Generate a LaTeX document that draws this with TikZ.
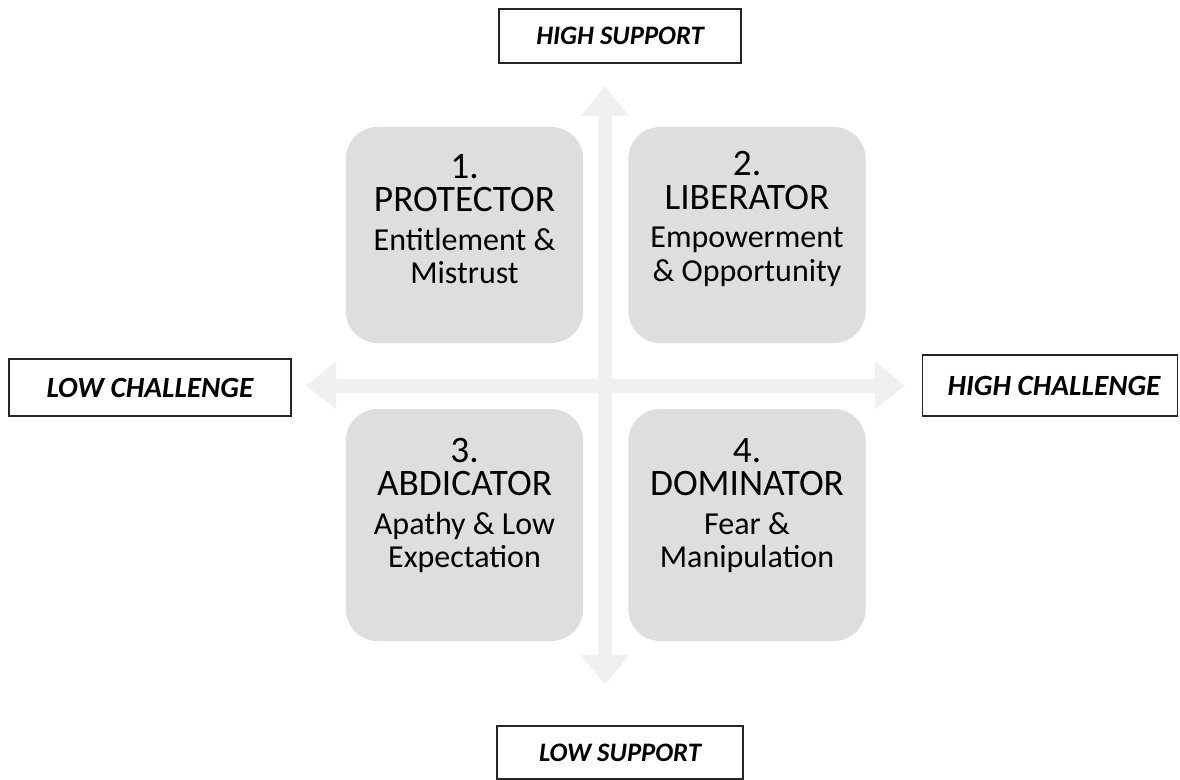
\documentclass[tikz,border=0pt]{standalone}
\usepackage{fontspec}
\setmainfont{Carlito}
\usepackage{tikz}
\usetikzlibrary{arrows.meta}
\definecolor{quadgrey}{HTML}{DEDEDE}
\definecolor{axisgrey}{HTML}{F0F0F0}
\newcommand{\quadtitle}{\fontsize{28}{25}\selectfont}

\begin{document}
\begin{tikzpicture}[x=0.75pt,y=-0.75pt,
    quad/.style={fill=quadgrey,rounded corners=24pt,minimum width=178pt,inner sep=0pt},
    quadtext/.style={align=center,inner sep=0pt,font=\fontsize{24}{25}\selectfont},
    axislabel/.style={draw=black!85,line width=1pt,fill=white,minimum height=40.5pt,inner sep=0pt,font=\fontsize{20}{24}\selectfont\bfseries\itshape},
    axis/.style={axisgrey,line width=10.5pt,arrows={Triangle[length=22.5pt,width=34.5pt]-Triangle[length=22.5pt,width=34.5pt]}}]
    \useasboundingbox (0,0) rectangle (1180,780);
    % the two axes
    \coordinate (lo) at (306,385.5);
    \coordinate (hi) at (905,385.5);
    \coordinate (up) at (605,86);
    \coordinate (dn) at (605,685);
    \draw[axis] (lo) -- (hi);
    \draw[axis] (dn) -- (up);
    % quadrants
    \node[quad,minimum height=162pt] (prot) at (464.5,235) {};
    \node[quad,minimum height=162pt] (lib) at (747,235) {};
    \node[quad,minimum height=174pt] (abd) at (464.5,525) {};
    \node[quad,minimum height=174pt] (dom) at (747,525) {};
    \node[quadtext] (prottext) at (464.5,219) {\quadtitle 1.\\\quadtitle PROTECTOR\\[4pt]Entitlement \&\\Mistrust};
    \node[quadtext] (libtext) at (747,219) {\quadtitle 2.\\\quadtitle LIBERATOR\\[4pt]Empowerment\\\& Opportunity};
    \node[quadtext] (abdtext) at (464.5,505.5) {\quadtitle 3.\\\quadtitle ABDICATOR\\[4pt]Apathy \& Low\\Expectation};
    \node[quadtext] (domtext) at (747,505.5) {\quadtitle 4.\\\quadtitle DOMINATOR\\[4pt]Fear \&\\Manipulation};
    % axis labels
    \node[axislabel,minimum width=181.5pt] (hisup) at (620,36) {HIGH SUPPORT};
    \node[axislabel,minimum width=184.5pt,minimum height=39.75pt] (losup) at (620,752.5) {LOW SUPPORT};
    \node[axislabel,minimum width=211.5pt,minimum height=42.75pt,font=\fontsize{22}{24}\selectfont\bfseries\itshape] (lochal) at (150,387.5) {LOW CHALLENGE};
    \node[axislabel,minimum width=191.5pt,minimum height=45.75pt,font=\fontsize{22}{24}\selectfont\bfseries\itshape] (hichal) at (1050,385.5) {\hspace{6pt}HIGH CHALLENGE};
\end{tikzpicture}
\end{document}
